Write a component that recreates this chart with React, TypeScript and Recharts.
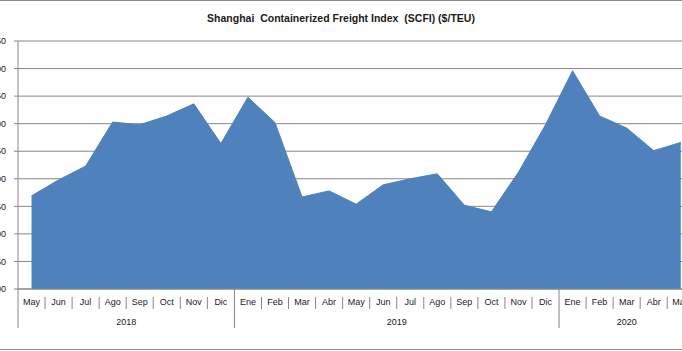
import React from 'react';
import { AreaChart, Area, XAxis, YAxis, CartesianGrid } from 'recharts';

const months = ['May', 'Jun', 'Jul', 'Ago', 'Sep', 'Oct', 'Nov', 'Dic', 'Ene', 'Feb', 'Mar', 'Abr', 'May', 'Jun', 'Jul', 'Ago', 'Sep', 'Oct', 'Nov', 'Dic', 'Ene', 'Feb', 'Mar', 'Abr', 'May'];
const yearLabels = ['2018', '2019', '2020'];
const yearStarts = [0, 8, 20];
const yearEnds = [7, 19, 24];
const scfi = [769, 798, 823, 903, 898, 914, 936, 864, 948, 902, 767, 778, 754, 789, 800, 809, 752, 740, 812, 898, 996, 914, 892, 851, 866];
const yTicks = [600, 650, 700, 750, 800, 850, 900, 950, 1000, 1050];

const data = months.map((m, i) => ({ k: i, m, v: scfi[i] }));

const CHART_W = 700;
const CHART_H = 351;
const PLOT_LEFT = 18;
const PLOT_RIGHT = 694.3;
const PLOT_TOP = 41;
const PLOT_BOTTOM = 289;
const STEP = (PLOT_RIGHT - PLOT_LEFT) / months.length;
const HALF = STEP / 2;
const GRAY = '#868686';
const FONT = '"Liberation Sans", Arial, sans-serif';

const XTick = (props: any) => {
  const { x, payload } = props;
  const i = Number(payload.value);
  const left = x - HALF;
  const yi = yearStarts.indexOf(i);
  const isYearStart = yi >= 0;
  return (
    <g>
      <line x1={left} x2={left} y1={isYearStart ? PLOT_BOTTOM : 297} y2={isYearStart ? 328 : 309} stroke={GRAY} strokeWidth={1} />
      <text x={x} y={302} textAnchor="middle" dominantBaseline="central" fontFamily={FONT} fontSize={9} fill="#1a1a1a">
        {months[i]}
      </text>
      {isYearStart && (
        <text
          x={left + ((yearEnds[yi] - yearStarts[yi] + 1) * STEP) / 2}
          y={322}
          textAnchor="middle"
          dominantBaseline="central"
          fontFamily={FONT}
          fontSize={9}
          fill="#1a1a1a"
        >
          {yearLabels[yi]}
        </text>
      )}
    </g>
  );
};

export default function App() {
  return (
    <div style={{ position: 'absolute', left: 0, top: 0, width: 682, height: 351, overflow: 'hidden', background: '#fff' }}>
      <div style={{ position: 'absolute', left: 0, top: 0, width: 682, height: 1, background: '#898989' }} />
      <div style={{ position: 'absolute', left: 0, top: 349, width: 682, height: 1, background: '#898989' }} />
      <div
        style={{
          position: 'absolute',
          left: 0,
          top: 11,
          width: 682,
          textAlign: 'center',
          fontFamily: FONT,
          fontWeight: 'bold',
          fontSize: 10.5,
          whiteSpace: 'pre',
          color: '#1a1a1a',
          lineHeight: '14px',
        }}
      >
        {'Shanghai  Containerized Freight Index  (SCFI) ($/TEU)'}
      </div>
      <div style={{ position: 'absolute', left: 0, top: 0 }}>
        <AreaChart
          width={CHART_W}
          height={CHART_H}
          data={data}
          margin={{ top: PLOT_TOP, right: CHART_W - PLOT_RIGHT, bottom: 0, left: 0 }}
        >
          <CartesianGrid vertical={false} stroke={GRAY} strokeWidth={1} />
          <XAxis
            dataKey="k"
            type="category"
            interval={0}
            height={CHART_H - PLOT_BOTTOM}
            padding={{ left: HALF, right: HALF }}
            tickLine={false}
            axisLine={{ stroke: GRAY }}
            tick={<XTick />}
          />
          <YAxis
            type="number"
            domain={[600, 1050]}
            ticks={yTicks}
            width={PLOT_LEFT}
            tickSize={4}
            tickMargin={8}
            tickLine={{ stroke: GRAY }}
            axisLine={{ stroke: GRAY }}
            tick={{ fontFamily: FONT, fontSize: 9, fill: '#1a1a1a' }}
            interval={0}
          />
          <Area
            type="linear"
            dataKey="v"
            stroke="#4F81BD"
            strokeWidth={1}
            fill="#4F81BD"
            fillOpacity={1}
            dot={false}
            activeDot={false}
            isAnimationActive={false}
          />
        </AreaChart>
      </div>
    </div>
  );
}
